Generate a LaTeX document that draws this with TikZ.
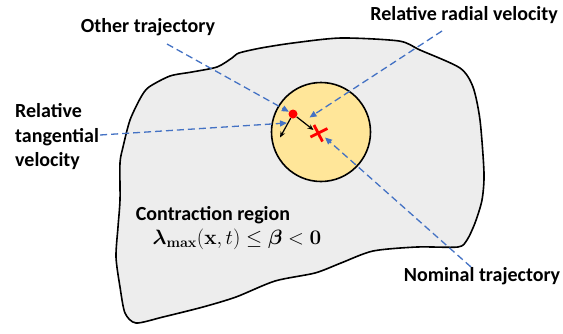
\documentclass[tikz,border=0pt]{standalone}
\usepackage{amsmath}
\usepackage[no-math]{fontspec}
\setmainfont{Carlito}
\usetikzlibrary{arrows.meta}
\definecolor{blobgray}{HTML}{EDEDED}
\definecolor{zoneyellow}{HTML}{FFE699}
\definecolor{ptrblue}{HTML}{4472C4}
\definecolor{markred}{HTML}{FF0000}
\tikzset{
  blob/.style={draw=black, line width=1.6pt, fill=blobgray, line join=round},
  zone/.style={circle, draw=black, line width=1.6pt, fill=zoneyellow, minimum size=99pt, inner sep=0pt},
  dotmark/.style={circle, fill=markred, minimum size=9pt, inner sep=0pt},
  crossline/.style={draw=markred, line width=2.8pt},
  ptr/.style={draw=ptrblue, line width=1.3pt, dash pattern=on 7pt off 4pt, -{Triangle[length=7pt,width=6pt]}},
  vel/.style={draw=black, line width=1.2pt, -{Stealth[length=6pt,width=5pt]}},
  lbl/.style={font=\fontsize{20}{24.5}\selectfont\bfseries, inner sep=1pt},
}
\begin{document}
\begin{tikzpicture}[x=1pt, y=-1pt]
\useasboundingbox (0,0) rectangle (563,333);
\fill[white] (0,0) rectangle (563,333);
% contraction region outline
\draw[blob] plot[smooth cycle, tension=0.45] coordinates {
  (239,53) (261,48) (293,43) (341,38) (399,41) (420,50) (460,68) (473,87)
  (480,120) (484,173) (482,200) (475,223) (467,240) (458,247) (417,247)
  (373,251) (341,263) (315,273) (275,281) (236,297) (203,307) (163,317)
  (136,323) (125,313) (120,287) (116,257) (118,227) (120,200) (120,163)
  (123,147) (130,120) (141,97) (149,87) (170,76) (192,72) (217,67) (232,58)};
% ball around nominal trajectory
\node[zone] (ball) at (321,132) {};
% nominal trajectory mark
\coordinate (nom) at (319,133);
\draw[crossline] ([shift={(-5,-8)}]nom) -- ([shift={(3.5,8.5)}]nom);
\draw[crossline] ([shift={(-8.5,4)}]nom) -- ([shift={(8.5,-4.5)}]nom);
% other trajectory
\node[dotmark] (other) at (293,114) {};
\coordinate (radtip) at (313.5,130);
\coordinate (tantip) at (280,137.5);
\draw[vel] (other) -- (radtip);
\draw[vel] (other) -- (tantip);
% labels
\node[lbl] (otherlbl) at (148,27) {Other trajectory};
\node[lbl] (radlbl) at (464,15) {Relative radial velocity};
\node[lbl, align=left, anchor=west] (tanlbl) at (14,137) {Relative\\tangential\\velocity};
\node[lbl] (nomlbl) at (482,276) {Nominal trajectory};
\node[lbl] (contr) at (213,215) {Contraction region};
\node[font=\fontsize{21}{25}\selectfont] (cond) at (237,239)
  {$\boldsymbol{\lambda}_{\mathbf{max}}(\mathbf{x},t)\le\boldsymbol{\beta}<\mathbf{0}$};
% pointers
\coordinate (radend) at (309.5,117.5);
\coordinate (tanend) at (287,123);
\coordinate (nomend) at (325,137.5);
\draw[ptr] (167,44) coordinate (otherstart) -- (other);
\draw[ptr] (442,31) coordinate (radstart) -- (radend);
\draw[ptr] (tanlbl.east |- 0,135) coordinate (tanstart) -- (tanend);
\draw[ptr] (471,267) coordinate (nomstart) -- (nomend);
\end{tikzpicture}
\end{document}
